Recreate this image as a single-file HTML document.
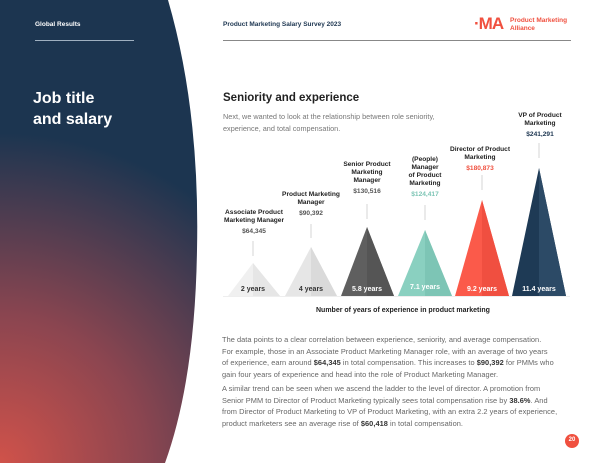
<!DOCTYPE html>
<html><head><meta charset="utf-8"><style>
body{margin:0;width:600px;height:463px;position:relative;overflow:hidden;background:#fff;font-family:"Liberation Sans",sans-serif;}
.a{position:absolute;white-space:nowrap}
.lbl{position:absolute;font-size:6.6px;font-weight:bold;color:#222;text-align:center;line-height:8px}
.val{font-size:6.6px;font-weight:bold;margin-top:3px}
.p{position:absolute;left:222px;font-size:7.4px;color:#666;line-height:11.5px;white-space:nowrap;letter-spacing:0.05px}
.p b{color:#333}
.yr{position:absolute;font-size:7px;font-weight:bold;text-align:center;width:54px;top:286px}
</style></head><body>
<svg class="a" style="left:0;top:0" width="600" height="463">
<defs>
<radialGradient id="g" cx="0" cy="463" r="330" gradientUnits="userSpaceOnUse">
<stop offset="0" stop-color="#d0524a"/><stop offset="0.45" stop-color="#8a4550"/><stop offset="1" stop-color="#1c3550"/>
</radialGradient>
</defs>
<path d="M0 0 L168 0 Q200 110 197 250 Q195 380 165 463 L0 463Z" fill="url(#g)"/>
<line x1="35" y1="40.5" x2="134" y2="40.5" stroke="#9fb0c0" stroke-width="1"/>
<line x1="223" y1="40.5" x2="571" y2="40.5" stroke="#888" stroke-width="1"/>
<g>
<polygon points="228,296 253,263 280,296" fill="#f0f0f0"/><polygon points="253,263 280,296 253,296" fill="#e6e6e6"/>
<polygon points="285,296 311,247 337,296" fill="#e6e6e6"/><polygon points="311,247 337,296 311,296" fill="#dadada"/>
<polygon points="341,296 367,227 394,296" fill="#5f5f5f"/><polygon points="367,227 394,296 367,296" fill="#555"/>
<polygon points="398,296 425,230 452,296" fill="#8ad0c0"/><polygon points="425,230 452,296 425,296" fill="#7dc5b5"/>
<polygon points="455,296 482,200 509,296" fill="#fb5a4a"/><polygon points="482,200 509,296 482,296" fill="#f04f40"/>
<polygon points="512,296 539,168 566,296" fill="#1e3a55"/><polygon points="539,168 566,296 539,296" fill="#2c4a66"/>
</g>
<g stroke="#ccc" stroke-width="0.8">
<line x1="253" y1="241" x2="253" y2="256"/><line x1="311" y1="224" x2="311" y2="238"/>
<line x1="367" y1="204" x2="367" y2="219"/><line x1="425" y1="205" x2="425" y2="220"/>
<line x1="482" y1="175" x2="482" y2="190"/><line x1="539" y1="143" x2="539" y2="158"/>
</g>
<line x1="223" y1="296.5" x2="570" y2="296.5" stroke="#eee"/>
<circle cx="572" cy="441" r="7" fill="#f0503f"/>
</svg>
<div class="a" style="left:35px;top:21px;font-size:6.5px;font-weight:bold;color:#fff">Global Results</div>
<div class="a" style="left:223px;top:21px;font-size:6.5px;font-weight:bold;color:#1c3550">Product Marketing Salary Survey 2023</div>
<div class="a" style="left:474px;top:14px;font-size:17px;font-weight:bold;color:#f0503f;letter-spacing:-1px">·MA</div>
<div class="a" style="left:510px;top:17px;font-size:6.5px;font-weight:bold;color:#f0503f;line-height:8px">Product Marketing<br>Alliance</div>
<div class="a" style="left:33px;top:88px;font-size:16px;font-weight:bold;color:#fff;line-height:21px">Job title<br>and salary</div>
<div class="a" style="left:223px;top:92px;font-size:11.5px;font-weight:bold;color:#222">Seniority and experience</div>
<div class="a" style="left:223px;top:111px;font-size:7.3px;color:#777;line-height:12px">Next, we wanted to look at the relationship between role seniority,<br>experience, and total compensation.</div>
<div class="lbl" style="left:500px;top:112px;width:80px">VP of Product<br>Marketing<div class="val" style="color:#1c3550">$241,291</div></div>
<div class="lbl" style="left:440px;top:146px;width:80px">Director of Product<br>Marketing<div class="val" style="color:#f0503f">$180,873</div></div>
<div class="lbl" style="left:385px;top:156px;width:80px">(People)<br>Manager<br>of Product<br>Marketing<div class="val" style="color:#7dc5b5">$124,417</div></div>
<div class="lbl" style="left:325px;top:161px;width:84px">Senior Product<br>Marketing<br>Manager<div class="val" style="color:#555">$130,516</div></div>
<div class="lbl" style="left:266px;top:191px;width:90px">Product Marketing<br>Manager<div class="val" style="color:#555">$90,392</div></div>
<div class="lbl" style="left:212px;top:209px;width:84px">Associate Product<br>Marketing Manager<div class="val" style="color:#555">$64,345</div></div>
<div class="yr" style="left:226px;color:#333">2 years</div>
<div class="yr" style="left:284px;color:#333">4 years</div>
<div class="yr" style="left:340px;color:#fff">5.8 years</div>
<div class="yr" style="left:398px;color:#fff;top:284px">7.1 years</div>
<div class="yr" style="left:455px;color:#fff">9.2 years</div>
<div class="yr" style="left:512px;color:#fff">11.4 years</div>
<div class="a" style="left:316px;top:307px;font-size:7px;font-weight:bold;color:#222">Number of years of experience in product marketing</div>
<div class="p" style="top:334px">The data points to a clear correlation between experience, seniority, and average compensation.<br>For example, those in an Associate Product Marketing Manager role, with an average of two years<br>of experience, earn around <b>$64,345</b> in total compensation. This increases to <b>$90,392</b> for PMMs who<br>gain four years of experience and head into the role of Product Marketing Manager.</div>
<div class="p" style="top:383px">A similar trend can be seen when we ascend the ladder to the level of director. A promotion from<br>Senior PMM to Director of Product Marketing typically sees total compensation rise by <b>38.6%</b>. And<br>from Director of Product Marketing to VP of Product Marketing, with an extra 2.2 years of experience,<br>product marketers see an average rise of <b>$60,418</b> in total compensation.</div>
<div class="a" style="left:565px;top:437px;width:14px;text-align:center;font-size:6px;font-weight:bold;color:#fff">20</div>
</body></html>
